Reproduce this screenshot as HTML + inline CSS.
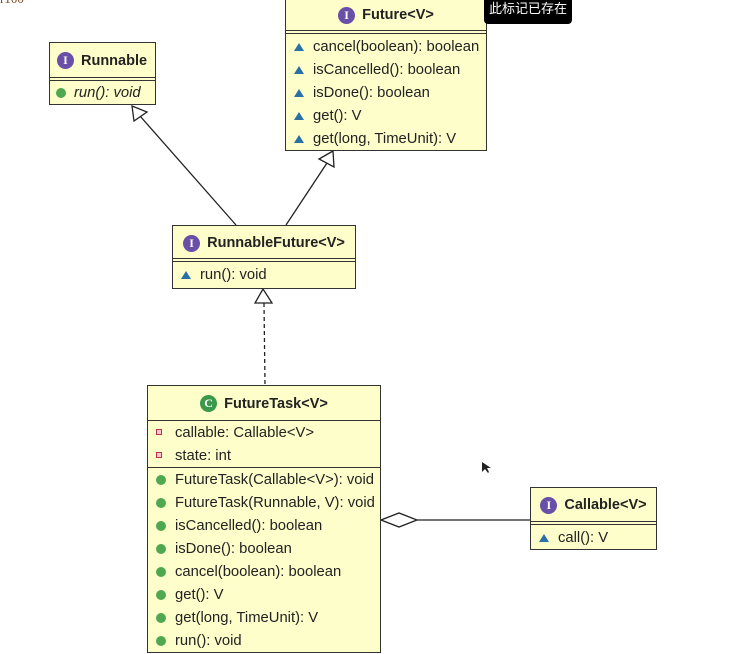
<!DOCTYPE html>
<html><head><meta charset="utf-8"><style>
body{margin:0;width:752px;height:654px;background:#fff;position:relative;overflow:hidden;font-family:"Liberation Sans","DejaVu Sans",sans-serif;}
.box{position:absolute;background:#fefecb;border:1.5px solid #333;box-sizing:border-box;}
.hd{position:absolute;left:0;right:0;top:0;font-weight:bold;font-size:14.5px;color:#222;display:flex;align-items:center;justify-content:center;}
.dl{position:absolute;left:0;right:0;border-top:1.5px solid #333;border-bottom:1.5px solid #333;height:1.5px;}
.sl{position:absolute;left:0;right:0;border-top:1.5px solid #333;}
.row{position:absolute;left:8px;font-size:14.8px;color:#222;white-space:nowrap;height:20px;line-height:22px;}
.ic{display:inline-block;width:17px;height:17px;border-radius:50%;background:#6a4fa8;color:#fff;font-size:12px;line-height:17px;text-align:center;margin-right:7px;font-weight:bold;font-family:"Liberation Serif",serif;}
.tri{display:inline-block;width:0;height:0;border-left:5px solid transparent;border-right:5px solid transparent;border-bottom:8px solid #2a6fa6;margin-right:9px;vertical-align:0px;}
.dot{display:inline-block;width:10px;height:10px;border-radius:50%;background:#4fa84f;margin-right:9px;vertical-align:-1px;}
.sq{display:inline-block;width:4px;height:4px;border:1.5px solid #c0304a;background:#f4c8d0;margin-right:13px;vertical-align:2px;}
</style></head><body>
<div style="position:absolute;left:0;top:-9px;font-size:13px;color:#7a4a20;font-family:'Liberation Serif',serif">r100</div>
<svg width="752" height="654" style="position:absolute;left:0;top:0">
<line x1="140" y1="116" x2="236" y2="225" stroke="#222" stroke-width="1.3"/>
<polygon points="132,106 147,112 134,121" fill="#fff" stroke="#222" stroke-width="1.3"/>
<line x1="327" y1="163" x2="286" y2="225" stroke="#222" stroke-width="1.3"/>
<polygon points="333,151 319,159 334,167" fill="#fff" stroke="#222" stroke-width="1.3"/>
<line x1="264" y1="303" x2="265" y2="385" stroke="#222" stroke-width="1.3" stroke-dasharray="4,3"/>
<polygon points="263,289 255,303 272,303" fill="#fff" stroke="#222" stroke-width="1.3"/>
<line x1="417" y1="520" x2="530" y2="520" stroke="#222" stroke-width="1.3"/>
<polygon points="381,520 399,513 417,520 399,527" fill="#fff" stroke="#222" stroke-width="1.3"/>
<polygon points="482,462 482,472 485,469 488,473 489,472 487,468 491,468" fill="#222"/>
</svg>

<div class="box" style="left:49px;top:42px;width:107px;height:63px">
 <div class="hd" style="height:35px;justify-content:flex-start;padding-left:7px"><span class="ic">I</span>Runnable</div>
 <div class="dl" style="top:34px"></div>
 <div class="row" style="top:39px;left:6px;font-style:italic"><span class="dot" style="margin-right:8px"></span>run(): void</div>
</div>

<div class="box" style="left:285px;top:-2px;width:202px;height:153px">
 <div class="hd" style="height:32px"><span class="ic">I</span>Future&lt;V&gt;</div>
 <div class="dl" style="top:31px"></div>
 <div class="row" style="top:37px"><span class="tri"></span>cancel(boolean): boolean</div>
 <div class="row" style="top:60px"><span class="tri"></span>isCancelled(): boolean</div>
 <div class="row" style="top:83px"><span class="tri"></span>isDone(): boolean</div>
 <div class="row" style="top:106px"><span class="tri"></span>get(): V</div>
 <div class="row" style="top:129px"><span class="tri"></span>get(long, TimeUnit): V</div>
</div>

<div style="position:absolute;left:484px;top:-4px;width:88px;height:28px;background:#000;border-radius:4px;color:#fff;font-size:13px;line-height:26px;text-align:center;font-family:'Liberation Sans','Noto Sans CJK SC',sans-serif">此标记已存在</div>

<div class="box" style="left:172px;top:225px;width:184px;height:64px">
 <div class="hd" style="height:34px"><span class="ic">I</span>RunnableFuture&lt;V&gt;</div>
 <div class="dl" style="top:32px"></div>
 <div class="row" style="top:38px"><span class="tri"></span>run(): void</div>
</div>

<div class="box" style="left:147px;top:385px;width:234px;height:268px">
 <div class="hd" style="height:35px"><span class="ic" style="background:#3a9a4a">C</span>FutureTask&lt;V&gt;</div>
 <div class="sl" style="top:34px"></div>
 <div class="row" style="top:36px"><span class="sq"></span>callable: Callable&lt;V&gt;</div>
 <div class="row" style="top:59px"><span class="sq"></span>state: int</div>
 <div class="sl" style="top:81px"></div>
 <div class="row" style="top:83px"><span class="dot"></span>FutureTask(Callable&lt;V&gt;): void</div>
 <div class="row" style="top:106px"><span class="dot"></span>FutureTask(Runnable, V): void</div>
 <div class="row" style="top:129px"><span class="dot"></span>isCancelled(): boolean</div>
 <div class="row" style="top:152px"><span class="dot"></span>isDone(): boolean</div>
 <div class="row" style="top:175px"><span class="dot"></span>cancel(boolean): boolean</div>
 <div class="row" style="top:198px"><span class="dot"></span>get(): V</div>
 <div class="row" style="top:221px"><span class="dot"></span>get(long, TimeUnit): V</div>
 <div class="row" style="top:244px"><span class="dot"></span>run(): void</div>
</div>

<div class="box" style="left:530px;top:487px;width:127px;height:63px">
 <div class="hd" style="height:34px"><span class="ic">I</span>Callable&lt;V&gt;</div>
 <div class="dl" style="top:33px"></div>
 <div class="row" style="top:39px"><span class="tri"></span>call(): V</div>
</div>
</body></html>
